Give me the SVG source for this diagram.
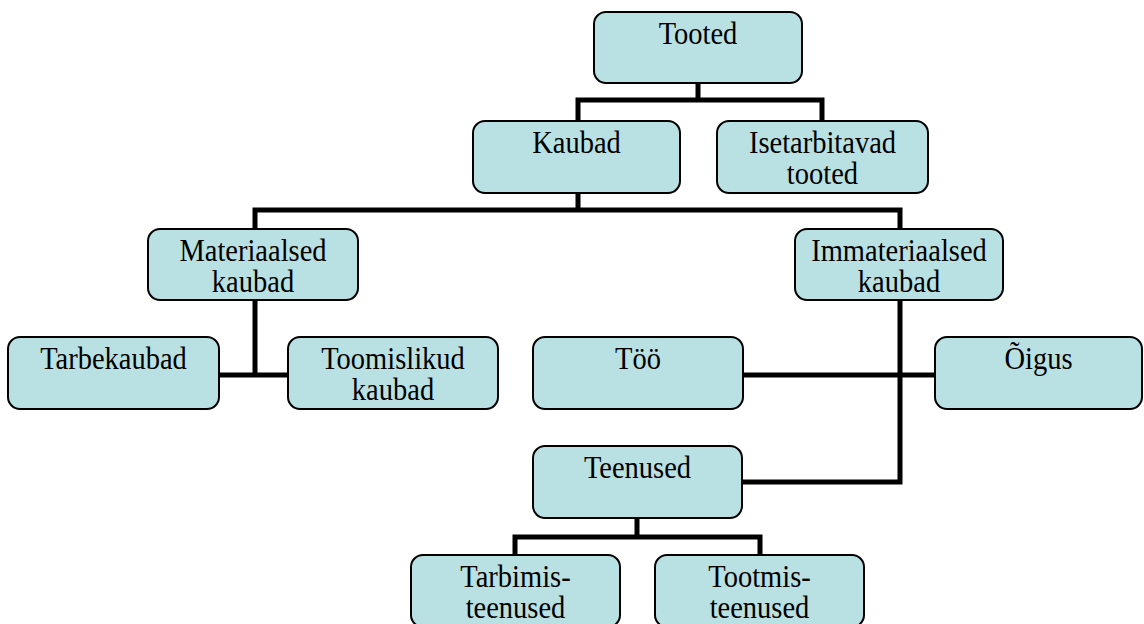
<svg xmlns="http://www.w3.org/2000/svg" width="1144" height="624" viewBox="0 0 1144 624">
<style>
.box{fill:#b9e0e3;stroke:#000;stroke-width:2}
.t{font-family:"Liberation Serif","Times New Roman",serif;font-size:28.5px;fill:#000;text-anchor:middle}
.c{fill:none;stroke:#000;stroke-width:5;stroke-linecap:square;stroke-linejoin:miter}
</style>
<rect width="1144" height="624" fill="#fff"/>
<g id="connectors">
<path class="c" d="M698 84 V100 M578 100 H822 M578 100 V120 M822 100 V120"/>
<path class="c" d="M578 194 V210 M255 210 H900 M255 210 V228 M900 210 V228"/>
<path class="c" d="M255 301 V375 M220 375 H287"/>
<path class="c" d="M900 301 V482 H743 M744 375 H934"/>
<path class="c" d="M637 519 V537 M515 537 H760 M515 537 V554 M760 537 V554"/>
</g>
<g id="n-tooted"><rect class="box" x="594" y="12" width="208" height="71" rx="12"/><text class="t" transform="matrix(1 0 0 1.08 0 44)" x="698" y="0">Tooted</text></g>
<g id="n-kaubad"><rect class="box" x="473" y="121" width="207" height="72" rx="12"/><text class="t" transform="matrix(1 0 0 1.08 0 153)" x="576.5" y="0">Kaubad</text></g>
<g id="n-isetarbitavad"><rect class="box" x="717" y="121" width="211" height="72" rx="12"/><text class="t" transform="matrix(1 0 0 1.08 0 153)" x="822.5" y="0">Isetarbitavad<tspan x="822.5" y="28.7">tooted</tspan></text></g>
<g id="n-materiaalsed"><rect class="box" x="148" y="229" width="210" height="71" rx="12"/><text class="t" transform="matrix(1 0 0 1.08 0 261)" x="253" y="0">Materiaalsed<tspan x="253" y="28.7">kaubad</tspan></text></g>
<g id="n-immateriaalsed"><rect class="box" x="795" y="229" width="208" height="71" rx="12"/><text class="t" transform="matrix(1 0 0 1.08 0 261)" x="899" y="0">Immateriaalsed<tspan x="899" y="28.7">kaubad</tspan></text></g>
<g id="n-tarbekaubad"><rect class="box" x="8" y="337" width="211" height="72" rx="12"/><text class="t" transform="matrix(1 0 0 1.08 0 369)" x="113.5" y="0">Tarbekaubad</text></g>
<g id="n-toomislikud"><rect class="box" x="288" y="337" width="210" height="72" rx="12"/><text class="t" transform="matrix(1 0 0 1.08 0 369)" x="393" y="0">Toomislikud<tspan x="393" y="28.7">kaubad</tspan></text></g>
<g id="n-too"><rect class="box" x="533" y="337" width="210" height="72" rx="12"/><text class="t" transform="matrix(1 0 0 1.08 0 369)" x="638" y="0">Töö</text></g>
<g id="n-oigus"><rect class="box" x="935" y="337" width="207" height="72" rx="12"/><text class="t" transform="matrix(1 0 0 1.08 0 369)" x="1038.5" y="0">Õigus</text></g>
<g id="n-teenused"><rect class="box" x="533" y="446" width="209" height="72" rx="12"/><text class="t" transform="matrix(1 0 0 1.08 0 478)" x="637.5" y="0">Teenused</text></g>
<g id="n-tarbimis"><rect class="box" x="411" y="555" width="209" height="72" rx="12"/><text class="t" transform="matrix(1 0 0 1.08 0 587)" x="515.5" y="0">Tarbimis-<tspan x="515.5" y="28.7">teenused</tspan></text></g>
<g id="n-tootmis"><rect class="box" x="655" y="555" width="209" height="72" rx="12"/><text class="t" transform="matrix(1 0 0 1.08 0 587)" x="759.5" y="0">Tootmis-<tspan x="759.5" y="28.7">teenused</tspan></text></g>
</svg>
